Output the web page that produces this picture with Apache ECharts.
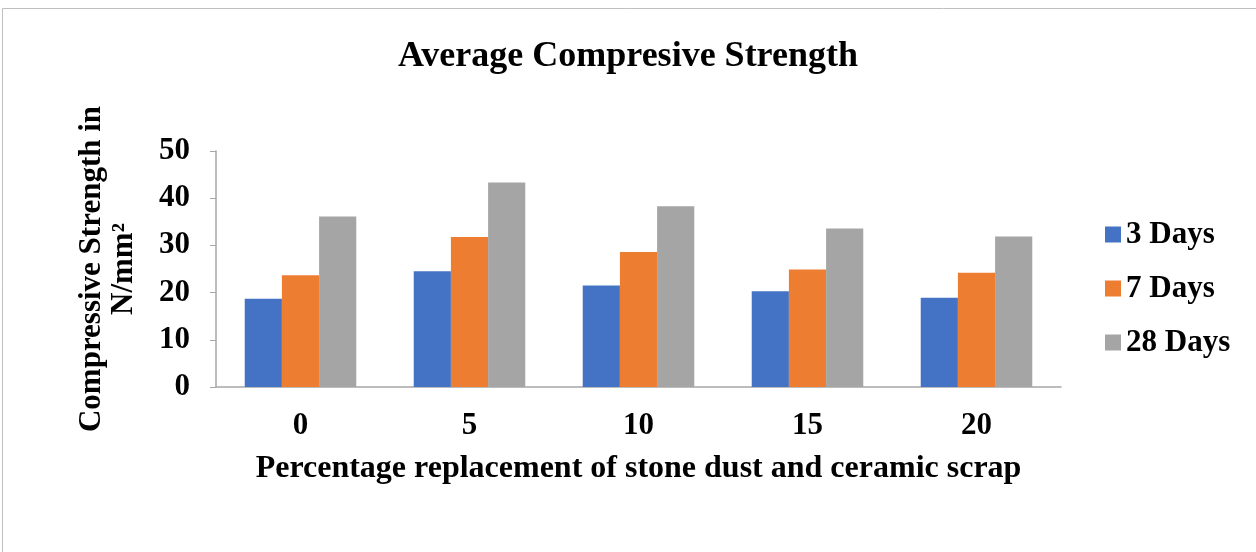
<!DOCTYPE html>
<html>
<head>
<meta charset="utf-8">
<script src="https://cdn.jsdelivr.net/npm/echarts@6/dist/echarts.min.js"></script>
<style>html,body{margin:0;padding:0;background:#fff}#c{width:1256px;height:552px}</style>
</head>
<body>
<div id="c"></div>
<script>
const categories = ['0', '5', '10', '15', '20'];
const days3 = [18.7, 24.5, 21.5, 20.3, 18.9];
const days7 = [23.7, 31.8, 28.6, 24.9, 24.2];
const days28 = [36.1, 43.3, 38.3, 33.6, 31.9];
const seriesNames = ['3 Days', '7 Days', '28 Days'];
const yTicks = [0, 10, 20, 30, 40, 50];

const font = "'Liberation Serif', 'Times New Roman', serif";
const chart = echarts.init(document.getElementById('c'));
const colors = ['#4472C4', '#ED7D31', '#A5A5A5'];
chart.setOption({
  animation: false,
  graphic: [{
    type: 'rect', shape: {x: 2.5, y: 8.5, width: 1270, height: 560},
    style: {fill: 'none', stroke: '#bfbfbf', lineWidth: 1}
  }],
  title: {
    text: 'Average Compresive Strength', left: 'center', top: 34,
    textStyle: {fontFamily: font, fontWeight: 'bold', fontSize: 36, color: '#000'}
  },
  legend: {
    orient: 'vertical', left: 1100, top: 214, itemWidth: 16, itemHeight: 16, itemGap: 23,
    icon: 'rect',
    textStyle: {fontFamily: font, fontWeight: 'bold', fontSize: 31, color: '#000'},
    data: seriesNames
  },
  grid: {left: 216, right: 195, top: 151, height: 236, containLabel: false},
  xAxis: {
    type: 'category', data: categories,
    axisLine: {lineStyle: {color: '#a6a6a6', width: 1.5}},
    axisTick: {show: false},
    axisLabel: {fontFamily: font, fontWeight: 'bold', fontSize: 31, color: '#000', margin: 23},
    name: 'Percentage replacement of stone dust and ceramic scrap',
    nameLocation: 'middle', nameGap: 66,
    nameTextStyle: {fontFamily: font, fontWeight: 'bold', fontSize: 32, color: '#000'}
  },
  yAxis: {
    type: 'value', min: yTicks[0], max: yTicks[yTicks.length-1], interval: 10,
    splitLine: {show: false},
    axisLine: {show: true, lineStyle: {color: '#a6a6a6', width: 1.5}},
    axisTick: {show: true, length: 6, lineStyle: {color: '#a6a6a6'}},
    axisLabel: {fontFamily: font, fontWeight: 'bold', fontSize: 31, color: '#000', margin: 26},
    name: 'Compressive Strength in\nN/mm²',
    nameLocation: 'middle', nameRotate: 90, nameGap: 76,
    nameTextStyle: {fontFamily: font, fontWeight: 'bold', fontSize: 31, color: '#000', lineHeight: 32}
  },
  series: [
    {name: seriesNames[0], type: 'bar', data: days3, itemStyle: {color: colors[0]}, barGap: '0%', barCategoryGap: '34%'},
    {name: seriesNames[1], type: 'bar', data: days7, itemStyle: {color: colors[1]}, barGap: '0%', barCategoryGap: '34%'},
    {name: seriesNames[2], type: 'bar', data: days28, itemStyle: {color: colors[2]}, barGap: '0%', barCategoryGap: '34%'}
  ]
});
</script>
</body>
</html>
